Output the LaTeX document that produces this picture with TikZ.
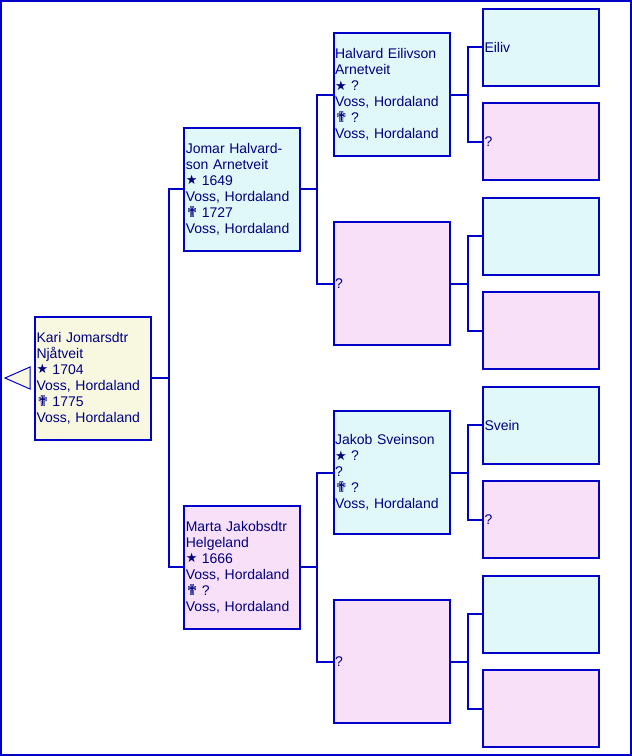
\documentclass[tikz,border=0pt]{standalone}
\usepackage{fontspec}
\setmainfont{Liberation Sans}
\newfontfamily\symfont{DejaVu Sans}
\definecolor{lineblue}{RGB}{0,0,200}
\definecolor{txtblue}{RGB}{0,0,128}
\definecolor{cyanfill}{RGB}{224,248,248}
\definecolor{pinkfill}{RGB}{248,224,248}
\definecolor{yelfill}{RGB}{248,248,224}
\newcommand{\bstar}{\makebox[16pt][l]{\raisebox{0.5pt}{\symfont\fontsize{13}{16}\selectfont ★}}}
\newcommand{\bcross}{\makebox[16pt][l]{\symfont\fontsize{15}{16}\selectfont ✟}}
\tikzset{
  pbox/.style={draw=lineblue, line width=2pt, text=txtblue, anchor=west,
    minimum width=116pt, text width=113pt, align=left, inner xsep=1.5pt,
    inner ysep=0pt, font=\fontsize{14}{16}\selectfont},
  big/.style={pbox, minimum height=123pt},
  small/.style={pbox, minimum height=77pt},
  male/.style={fill=cyanfill},
  female/.style={fill=pinkfill},
  conn/.style={draw=lineblue, line width=2pt},
}
\begin{document}
\begin{tikzpicture}[x=1pt,y=-1pt]
\useasboundingbox (0,0) rectangle (632,756);
\draw[lineblue, line width=2pt] (1,1) rectangle (631,755);
% root
\node[big, fill=yelfill] (root) at (34,378) {Kari Jomarsdtr\\Njåtveit\\\bstar 1704\\Voss, Hordaland\\\bcross 1775\\Voss, Hordaland};
\draw[lineblue, line width=1pt, fill=yelfill] (30,367) -- (5,378) -- (30,389) -- cycle;
% generation 1
\node[big, male] (g1a) at (183.3,189) {Jomar Halvard-\\son Arnetveit\\\bstar 1649\\Voss, Hordaland\\\bcross 1727\\Voss, Hordaland};
\node[big, female] (g1b) at (183.3,567) {Marta Jakobsdtr\\Helgeland\\\bstar 1666\\Voss, Hordaland\\\bcross ?\\Voss, Hordaland};
% generation 2
\node[big, male] (g2a) at (332.6,94.5) {Halvard Eilivson\\Arnetveit\\\bstar ?\\Voss, Hordaland\\\bcross ?\\Voss, Hordaland};
\node[big, female] (g2b) at (332.6,283.5) {?};
\node[big, male] (g2c) at (332.6,472.5) {Jakob Sveinson\\\bstar ?\\?\\\bcross ?\\Voss, Hordaland};
\node[big, female] (g2d) at (332.6,661.5) {?};
% generation 3
\node[small, male] (g3a) at (482,47.25) {Eiliv};
\node[small, female] (g3b) at (482,141.75) {?};
\node[small, male] (g3c) at (482,236.25) {};
\node[small, female] (g3d) at (482,330.75) {};
\node[small, male] (g3e) at (482,425.25) {Svein};
\node[small, female] (g3f) at (482,519.75) {?};
\node[small, male] (g3g) at (482,614.25) {};
\node[small, female] (g3h) at (482,708.75) {};
% connectors
\draw[conn] (root.east) -- ++(17,0) coordinate (c0) |- (g1a.west);
\draw[conn] (c0) |- (g1b.west);
\draw[conn] (g1a.east) -- ++(16,0) coordinate (c1) |- (g2a.west);
\draw[conn] (c1) |- (g2b.west);
\draw[conn] (g1b.east) -- ++(16,0) coordinate (c2) |- (g2c.west);
\draw[conn] (c2) |- (g2d.west);
\draw[conn] (g2a.east) -- ++(17,0) coordinate (c3) |- (g3a.west);
\draw[conn] (c3) |- (g3b.west);
\draw[conn] (g2b.east) -- ++(17,0) coordinate (c4) |- (g3c.west);
\draw[conn] (c4) |- (g3d.west);
\draw[conn] (g2c.east) -- ++(17,0) coordinate (c5) |- (g3e.west);
\draw[conn] (c5) |- (g3f.west);
\draw[conn] (g2d.east) -- ++(17,0) coordinate (c6) |- (g3g.west);
\draw[conn] (c6) |- (g3h.west);
\end{tikzpicture}
\end{document}
